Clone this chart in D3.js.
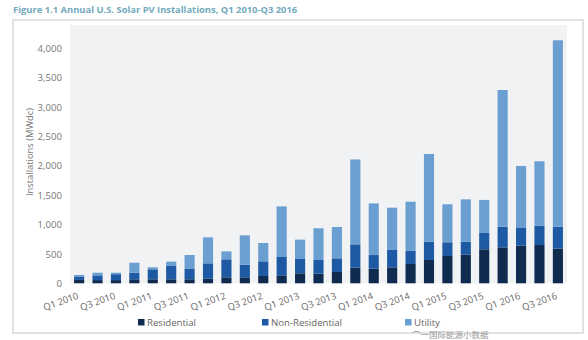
<!DOCTYPE html>
<html><head><meta charset="utf-8">
<script src="https://cdn.jsdelivr.net/npm/d3@7"></script>
<style>body{margin:0;background:#fff;}svg{display:block;font-family:"Open Sans",sans-serif;}</style>
</head><body><svg id="c" width="588" height="340"></svg>
<script>
const quarters = ["Q1 2010","Q2 2010","Q3 2010","Q4 2010","Q1 2011","Q2 2011","Q3 2011","Q4 2011","Q1 2012","Q2 2012","Q3 2012","Q4 2012","Q1 2013","Q2 2013","Q3 2013","Q4 2013","Q1 2014","Q2 2014","Q3 2014","Q4 2014","Q1 2015","Q2 2015","Q3 2015","Q4 2015","Q1 2016","Q2 2016","Q3 2016"];
const residential = [57,55,55,68,68,68,68,79,102,102,125,136,170,165,193,266,249,272,329,397,465,488,579,612,640,652,589];
const nonResidential = [60,80,100,113,170,227,176,261,306,215,249,312,244,232,232,397,232,295,227,312,233,221,278,352,312,329,374];
const utility = [25,45,25,170,34,74,238,442,136,499,312,861,329,539,533,1445,879,720,833,1492,647,720,562,2326,1045,1096,3173];
const yTicks = [0,500,1000,1500,2000,2500,3000,3500,4000];
const seriesNames = ["Residential","Non-Residential","Utility"];
const colors = ["#0f2b50","#1d5aa3","#6b9fd1"];

const svg = d3.select("#c");
svg.append("rect").attr("x",13).attr("y",20).attr("width",570).attr("height",313)
  .attr("fill","#fff").attr("stroke","#cfcfcf").attr("stroke-width",1.2);
svg.append("text").attr("x",13).attr("y",13).attr("font-size",9.4).attr("font-weight","bold")
  .attr("fill","#72aabb").text("Figure 1.1 Annual U.S. Solar PV Installations, Q1 2010-Q3 2016");

const x = d3.scaleBand().domain(quarters).range([70,567]).paddingInner(0.45).paddingOuter(0.22);
const y = d3.scaleLinear().domain([0,4000]).range([283.3,48.3]);

svg.append("rect").attr("x",70).attr("y",25).attr("width",497).attr("height",258.3).attr("fill","#f1f2f4");

const rows = quarters.map((q,i)=>({q, Residential:residential[i], "Non-Residential":nonResidential[i], Utility:utility[i]}));
const stack = d3.stack().keys(seriesNames)(rows);
svg.append("g").selectAll("g").data(stack).join("g").attr("fill",(d,i)=>colors[i])
  .selectAll("rect").data(d=>d).join("rect")
  .attr("x",d=>x(d.data.q)).attr("width",x.bandwidth())
  .attr("y",d=>y(d[1])).attr("height",d=>y(d[0])-y(d[1]));

const ya = svg.append("g").attr("transform","translate(62,0)")
  .call(d3.axisLeft(y).tickValues(yTicks).tickFormat(d3.format(",")).tickSize(0).tickPadding(0));
ya.select(".domain").remove();
ya.selectAll("text").attr("font-size",9.6).attr("fill","#777").attr("font-family","Open Sans, sans-serif");

svg.append("text").attr("transform","translate(33,152) rotate(-90)").attr("text-anchor","middle")
  .attr("font-size",9.4).attr("fill","#777").text("Installations (MWdc)");

const xa = svg.append("g").attr("transform","translate(0,283.3)")
  .call(d3.axisBottom(x).tickValues(quarters.filter((q,i)=>i%2===0)).tickSize(0).tickPadding(0));
xa.select(".domain").remove();
xa.selectAll("text").attr("font-size",9.4).attr("fill","#666").attr("font-family","Open Sans, sans-serif")
  .attr("text-anchor","end").attr("dy",0).attr("transform","translate(0,15) rotate(-20)");

const legX = [138,262,405];
const lg = svg.append("g").selectAll("g").data(seriesNames).join("g")
  .attr("transform",(d,i)=>`translate(${legX[i]},319)`);
lg.append("rect").attr("width",6.5).attr("height",6.5).attr("fill",(d,i)=>colors[i]);
lg.append("text").attr("x",9).attr("y",7).attr("font-size",9.6).attr("fill","#666").text(d=>d);

svg.append("text").attr("x",412).attr("y",337.5).attr("font-size",8.5).attr("fill","#999")
  .attr("font-family","Noto Sans CJK SC").text("⌒一国际能源小数据");
</script></body></html>
